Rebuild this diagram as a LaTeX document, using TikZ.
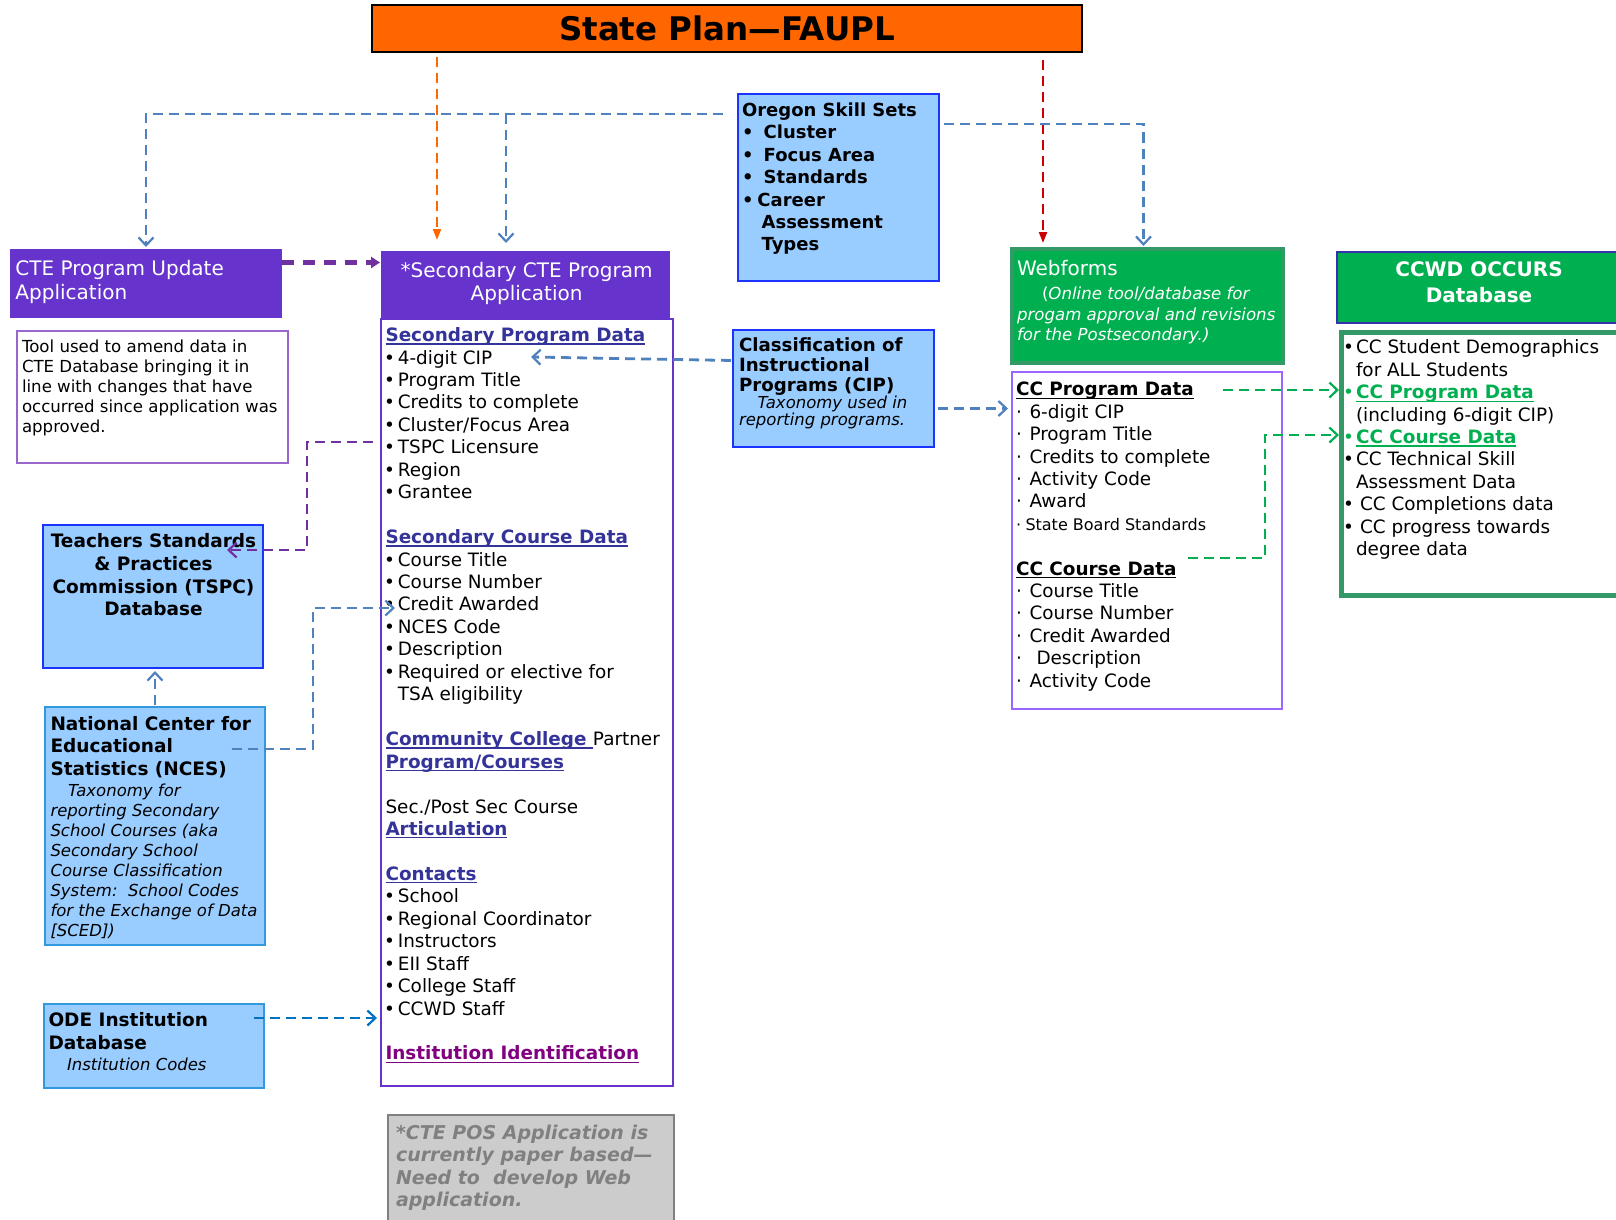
\documentclass[tikz,border=0pt]{standalone}
\usepackage{fontspec}
\setmainfont{DejaVu Sans}
\usetikzlibrary{arrows.meta}

\definecolor{faupl}{HTML}{FF6600}
\definecolor{ctepurple}{HTML}{6633CC}
\definecolor{toolpurple}{HTML}{9966CC}
\definecolor{ccpurple}{HTML}{9966FF}
\definecolor{skyfill}{HTML}{99CCFF}
\definecolor{boxblue}{HTML}{1A33FF}
\definecolor{ncesblue}{HTML}{3399DD}
\definecolor{headblue}{HTML}{3333AA}
\definecolor{occgreen}{HTML}{00B050}
\definecolor{darkgreen}{HTML}{339966}
\definecolor{linkblue}{HTML}{333399}
\definecolor{instpurple}{HTML}{800080}
\definecolor{arrowblue}{HTML}{4F81BD}
\definecolor{odeblue}{HTML}{0070C0}
\definecolor{lnpurple}{HTML}{7030A0}
\definecolor{notegray}{HTML}{808080}
\definecolor{notefill}{HTML}{CCCCCC}
\definecolor{faupred}{HTML}{CC0000}

\newcommand{\fsz}[2]{\fontsize{#1}{#2}\selectfont}
\newcommand{\ulined}[1]{\begingroup\setbox0=\hbox{#1}\rlap{\rule[-3pt]{\wd0}{1.2pt}}\box0\endgroup}
\newcommand{\lnk}[1]{{\color{linkblue}\bfseries\ulined{#1}}}
\newcommand{\blt}{\makebox[12.4pt][l]{\kern-1.5pt•}}
\newcommand{\obul}{\makebox[21.7pt][l]{•}}
\newcommand{\cbul}{\makebox[13pt][l]{•}}
\newcommand{\midot}{\makebox[13.5pt][l]{·}}

\begin{document}
\begin{tikzpicture}[x=1pt, y=-1pt,
  box/.style={rectangle, inner sep=0pt, outer sep=0pt},
  txt/.style={inner sep=0pt, outer sep=0pt, align=left, anchor=north west},
  bluedash/.style={draw=arrowblue, line width=2.8pt, dash pattern=on 10pt off 6pt,
    -{Straight Barb[length=8pt, width=15pt, line width=2.2pt]}},
  odedash/.style={bluedash, draw=odeblue},
  greendash/.style={bluedash, draw=occgreen},
  purpledash/.style={bluedash, draw=lnpurple},
  purplethick/.style={draw=lnpurple, line width=4.5pt, dash pattern=on 12pt off 9pt,
    -{Triangle[length=9pt, width=11pt]}},
  orangedash/.style={draw=faupl, line width=2.2pt, dash pattern=on 10pt off 6pt,
    -{Triangle[length=11pt, width=8pt]}},
  reddash/.style={orangedash, draw=faupred}]

\clip (0,0) rectangle (1616,1220);

% top
\node[box, draw=black, line width=1.5pt, fill=faupl, minimum width=710pt, minimum height=47pt,
  font=\bfseries\fsz{32.5}{38}] (title) at (727,28.5) {State Plan—FAUPL};

\node[box, draw=boxblue, line width=2pt, fill=skyfill, minimum width=201pt, minimum height=187pt] (oregon) at (838.5,187.5) {};
\node[txt, font=\bfseries\fsz{18}{22.4}] (oregontext) at (742,102.8) {Oregon Skill Sets\\
\obul Cluster\\
\obul Focus Area\\
\obul Standards\\
\makebox[15.5pt][l]{•}Career\\
\hspace*{19.6pt}Assessment\\
\hspace*{19.6pt}Types};

% left column
\node[box, fill=ctepurple, minimum width=272pt, minimum height=69pt] (update) at (146,283.5) {};
\node[txt, text=white, font=\fsz{20}{24}] (updatetext) at (15.5,260) {CTE Program Update\\Application};

\node[box, draw=toolpurple, line width=1.5pt, minimum width=271pt, minimum height=132pt] (tool) at (152.5,397) {};
\node[txt, font=\fsz{16.6}{20.1}] (tooltext) at (22,339.4) {Tool used to amend data in\\
CTE Database bringing it in\\
line with changes that have\\
occurred since application was\\
approved.};

\node[box, draw=boxblue, line width=2pt, fill=skyfill, minimum width=220pt, minimum height=143pt] (tspc) at (153,596.5) {};
\node[txt, anchor=north, align=center, font=\bfseries\fsz{18.5}{22.7}] (tspctext) at (153.5,533.6) {Teachers Standards\\
\& Practices\\
Commission (TSPC)\\
Database};

\node[box, draw=ncesblue, line width=2pt, fill=skyfill, minimum width=220pt, minimum height=238pt] (nces) at (155,826) {};
\node[txt, font=\bfseries\fsz{18.5}{22.75}] (ncestitle) at (50.5,716) {National Center for\\
Educational\\
Statistics (NCES)};
\node[txt, font=\itshape\fsz{16.5}{20}] (ncesnote) at (50.5,784) {\hspace*{17.5pt}Taxonomy for\\
reporting Secondary\\
School Courses (aka\\
Secondary School\\
Course Classification\\
System:\ \ School Codes\\
for the Exchange of Data\\{}%
[SCED])};

\node[box, draw=ncesblue, line width=2pt, fill=skyfill, minimum width=220pt, minimum height=84pt] (ode) at (154,1046) {};
\node[txt, font=\bfseries\fsz{18.5}{23}] (odetitle) at (48.5,1012.6) {ODE Institution\\Database};
\node[txt, font=\itshape\fsz{16.5}{20}] (odenote) at (67,1058) {Institution Codes};

% secondary application
\node[box, fill=ctepurple, minimum width=289pt, minimum height=68pt] (sechead) at (525.5,285) {};
\node[box, draw=ctepurple, line width=2.5pt, minimum width=292pt, minimum height=767pt] (secbox) at (527,702.5) {};
\node[txt, anchor=north, align=center, text=white, font=\fsz{20}{23.7}] (secheadtext) at (526.6,262) {*Secondary CTE Program\\Application};
\node[txt, font=\fsz{18.4}{22.45}] (sectext) at (385.5,327.6) {\lnk{Secondary Program Data}\\
\blt 4-digit CIP\\
\blt Program Title\\
\blt Credits to complete\\
\blt Cluster/Focus Area\\
\blt TSPC Licensure\\
\blt Region\\
\blt Grantee\\[22.45pt]
\lnk{Secondary Course Data}\\
\blt Course Title\\
\blt Course Number\\
\blt Credit Awarded\\
\blt NCES Code\\
\blt Description\\
\blt Required or elective for\\
\hspace*{12.4pt}TSA eligibility\\[22.45pt]
\lnk{Community College }Partner\\
\lnk{Program/Courses}\\[22.45pt]
Sec./Post Sec Course\\
\lnk{Articulation}\\[22.45pt]
\lnk{Contacts}\\
\blt School\\
\blt Regional Coordinator\\
\blt Instructors\\
\blt EII Staff\\
\blt College Staff\\
\blt CCWD Staff\\[22.45pt]
{\color{instpurple}\bfseries\ulined{Institution Identification}}};

\node[box, draw=notegray, line width=2pt, fill=notefill, minimum width=286pt, minimum height=140pt, anchor=north west] (note) at (388,1115) {};
\node[txt, text=notegray, font=\bfseries\itshape\fsz{19}{22.4}] (notetext) at (396,1125) {*CTE POS Application is\\
currently paper based—\\
Need to\ \ develop Web\\
application.};

% middle
\node[box, draw=boxblue, line width=2pt, fill=skyfill, minimum width=201pt, minimum height=117pt] (cip) at (833.5,388.5) {};
\node[txt, font=\bfseries\fsz{18.2}{20}] (ciptitle) at (739,337.7) {Classification of\\
Instructional\\
Programs (CIP)};
\node[txt, font=\itshape\fsz{16.5}{16.5}] (cipnote) at (739,396.4) {\hspace*{18.5pt}Taxonomy used in\\reporting programs.};

% postsecondary
\node[box, draw=darkgreen, line width=4pt, fill=occgreen, minimum width=271pt, minimum height=114pt] (web) at (1147.5,306) {};
\node[txt, text=white, font=\fsz{20}{24}] (webtitle) at (1017,260) {Webforms};
\node[txt, text=white, font=\itshape\fsz{16.6}{20.6}] (webnote) at (1017,287) {\hspace*{25pt}\textup{(}Online tool/database for\\
progam approval and revisions\\
for the Postsecondary.)};

\node[box, draw=ccpurple, line width=1.5pt, minimum width=270pt, minimum height=337pt] (ccbox) at (1147,540.5) {};
\node[txt, font=\fsz{18.4}{22.4}] (cctext) at (1016,382.2) {\ulined{\bfseries CC Program Data}\\
\midot 6-digit CIP\\
\midot Program Title\\
\midot Credits to complete\\
\midot Activity Code\\
\midot Award\\
{\fsz{16}{22.4}\makebox[9.5pt][l]{·}State Board Standards}\\[22.4pt]
\ulined{\bfseries CC Course Data}\\
\midot Course Title\\
\midot Course Number\\
\midot Credit Awarded\\
\midot\hspace*{7pt}Description\\
\midot Activity Code};

\node[box, draw=headblue, line width=2pt, fill=occgreen, minimum width=288pt, minimum height=71pt] (ccwdhead) at (1481,287.5) {};
\node[txt, anchor=north, align=center, text=white, font=\bfseries\fsz{20}{25.8}] (ccwdheadtext) at (1479,262) {CCWD OCCURS\\Database};

\node[box, draw=darkgreen, line width=5pt, minimum width=284pt, minimum height=263pt] (ccwdbox) at (1483,463.5) {};
\node[txt, font=\fsz{18.4}{22.4}] (ccwdtext) at (1343,340) {\cbul CC Student Demographics\\
\hspace*{13pt}for ALL Students\\
{\color{occgreen}\cbul\bfseries\ulined{CC Program Data}}\\
\hspace*{13pt}(including 6-digit CIP)\\
{\color{occgreen}\cbul}{\color{occgreen}\bfseries\ulined{CC Course Data}}\\
\cbul CC Technical Skill\\
\hspace*{13pt}Assessment Data\\
\cbul\hspace*{4pt}CC Completions data\\
\cbul\hspace*{4pt}CC progress towards\\
\hspace*{13pt}degree data};

% connectors
\coordinate (fauplL) at (437,57);
\coordinate (fauplR) at (1043,60);
\coordinate (skillsplit) at (506,114);
\coordinate (updout) at ([yshift=21pt]update.east);
\coordinate (cipout) at ([yshift=28pt]cip.west);
\coordinate (cipin) at (531,357);
\coordinate (cipright) at ([yshift=-20pt]cip.east);
\coordinate (tspcbend) at (307,442);
\coordinate (tspcin) at (227,550);
\coordinate (ncesout) at (232,749);
\coordinate (ncesbend) at (313,608);
\coordinate (credin) at (395,608);
\coordinate (odeout) at ([xshift=-10pt, yshift=28pt]ode.east);
\coordinate (webin) at ([xshift=-4pt]web.north);
\coordinate (ccprog) at (1223,390);
\coordinate (cccourse) at (1188,558);
\coordinate (ccbend) at (1265,435);

\draw[orangedash, shorten >=11pt] (fauplL) -- (fauplL |- sechead.north);
\draw[reddash, shorten >=6pt] (fauplR) -- (fauplR |- web.north);
\draw[bluedash, shorten <=15pt, shorten >=2pt] ([yshift=-20pt]oregon.north west) -| (update.north);
\draw[bluedash, shorten >=8pt] (skillsplit) -- (skillsplit |- sechead.north);
\draw[bluedash, shorten <=5pt, shorten >=3pt] ([yshift=-30pt]oregon.north east) -| (webin);
\draw[purplethick, shorten >=1pt] (updout) -- (updout -| sechead.west);
\draw[bluedash, shorten <=2pt] (cipout) -- (cipin);
\draw[bluedash, shorten <=4pt, shorten >=4pt] (cipright) -- (cipright -| ccbox.west);
\draw[purpledash, shorten <=8pt] (tspcbend -| secbox.west) -- (tspcbend) |- (tspcin);
\draw[bluedash] (ncesout) -| (ncesbend) -- (credin);
\draw[bluedash, shorten <=2pt, shorten >=3pt] (nces.north) -- (nces.north |- tspc.south);
\draw[odedash, shorten >=4pt] (odeout) -- (odeout -| secbox.west);
\draw[greendash, shorten >=2pt] (ccprog) -- (ccprog -| ccwdbox.west);
\draw[greendash, shorten >=2pt] (cccourse) -| (ccbend) -- (ccbend -| ccwdbox.west);
\end{tikzpicture}
\end{document}
